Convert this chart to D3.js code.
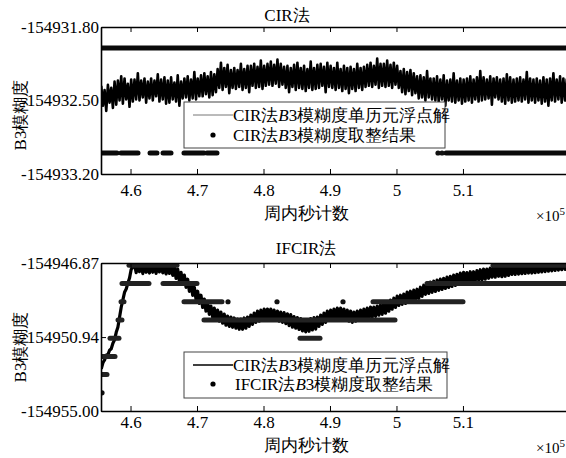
<!DOCTYPE html>
<html><head><meta charset="utf-8">
<script src="https://cdn.jsdelivr.net/npm/d3@7"></script>
<style>
html,body{margin:0;padding:0;background:#fff;overflow:hidden}
svg text{font-family:"Liberation Serif","Times New Roman",Times,serif !important}
</style></head><body>
<script>
// ---------------- data ----------------
const epochStart = 455600, epochStep = 250;
const xTickValues = [460000, 470000, 480000, 490000, 500000, 510000];
const xTickLabels = ["4.6", "4.7", "4.8", "4.9", "5", "5.1"];
const xAxisTitle = "周内秒计数";
const yAxisTitle = "B3模糊度";

const cirTitle = "CIR法";
const cirTickValues = [-154931.80, -154932.50, -154933.20];
const cirTickLabels = ["-154931.80", "-154932.50", "-154933.20"];
const cirFloatBase = -154932;
const cirFloatOffsets = [
 -0.36,-0.55,-0.40,-0.60,-0.35,-0.52,-0.38,-0.57,-0.32,-0.54,
 -0.31,-0.50,-0.27,-0.53,-0.29,-0.49,-0.34,-0.56,-0.30,-0.51,
 -0.30,-0.49,-0.24,-0.50,-0.31,-0.47,-0.29,-0.52,-0.32,-0.48,
 -0.29,-0.50,-0.31,-0.46,-0.25,-0.51,-0.30,-0.49,-0.28,-0.53,
 -0.31,-0.52,-0.28,-0.49,-0.33,-0.51,-0.26,-0.55,-0.32,-0.48,
 -0.29,-0.47,-0.27,-0.50,-0.30,-0.48,-0.23,-0.49,-0.29,-0.46,
 -0.26,-0.46,-0.24,-0.44,-0.27,-0.47,-0.23,-0.45,-0.25,-0.42,
 -0.20,-0.38,-0.14,-0.40,-0.19,-0.37,-0.16,-0.43,-0.21,-0.38,
 -0.19,-0.39,-0.21,-0.37,-0.15,-0.40,-0.20,-0.38,-0.17,-0.42,
 -0.17,-0.36,-0.15,-0.38,-0.18,-0.37,-0.12,-0.39,-0.17,-0.36,
 -0.15,-0.35,-0.13,-0.36,-0.16,-0.34,-0.11,-0.37,-0.15,-0.35,
 -0.18,-0.38,-0.17,-0.42,-0.19,-0.37,-0.16,-0.40,-0.14,-0.38,
 -0.19,-0.39,-0.17,-0.41,-0.20,-0.38,-0.13,-0.40,-0.19,-0.39,
 -0.16,-0.38,-0.15,-0.36,-0.18,-0.42,-0.14,-0.37,-0.17,-0.38,
 -0.19,-0.40,-0.14,-0.38,-0.20,-0.41,-0.17,-0.39,-0.19,-0.43,
 -0.18,-0.39,-0.20,-0.41,-0.15,-0.38,-0.19,-0.40,-0.18,-0.37,
 -0.16,-0.36,-0.14,-0.37,-0.17,-0.35,-0.10,-0.38,-0.15,-0.36,
 -0.15,-0.37,-0.12,-0.36,-0.16,-0.38,-0.14,-0.35,-0.17,-0.38,
 -0.22,-0.42,-0.20,-0.44,-0.23,-0.41,-0.21,-0.45,-0.24,-0.43,
 -0.27,-0.48,-0.26,-0.47,-0.28,-0.50,-0.22,-0.47,-0.29,-0.49,
 -0.29,-0.50,-0.27,-0.51,-0.30,-0.49,-0.26,-0.55,-0.31,-0.50,
 -0.30,-0.51,-0.24,-0.52,-0.31,-0.50,-0.29,-0.53,-0.30,-0.51,
 -0.29,-0.50,-0.27,-0.52,-0.30,-0.49,-0.28,-0.51,-0.22,-0.50,
 -0.28,-0.49,-0.30,-0.48,-0.27,-0.54,-0.29,-0.47,-0.28,-0.49,
 -0.30,-0.51,-0.29,-0.53,-0.25,-0.50,-0.28,-0.52,-0.30,-0.51,
 -0.29,-0.50,-0.28,-0.51,-0.30,-0.49,-0.23,-0.52,-0.29,-0.50,
 -0.30,-0.52,-0.29,-0.50,-0.31,-0.53,-0.28,-0.51,-0.30,-0.55,
 -0.29,-0.50,-0.24,-0.51,-0.30,-0.49,-0.27,-0.52,-0.29,-0.50,
 -0.30,-0.51
];
// [level, start epoch, end epoch]
const cirFixedRuns = [
 [-154932, 455560, 527000],
 [-154933, 455560, 457966],
 [-154933, 458568, 461125],
 [-154933, 462930, 463982],
 [-154933, 464885, 466088],
 [-154933, 468043, 471051],
 [-154933, 471502, 473006],
 [-154933, 507448, 527000]
];
const cirFixedDots = [[-154933, 506245], [-154933, 506846]];
const cirLegendFloat = ["CIR法", "B", "3模糊度单历元浮点解"];
const cirLegendFixed = ["CIR法", "B", "3模糊度取整结果"];

const ifTitle = "IFCIR法";
const ifTickValues = [-154946.87, -154950.94, -154955.00];
const ifTickLabels = ["-154946.87", "-154950.94", "-154955.00"];
const ifFloatBase = -154947;
const ifFloatOffsets = [
 -5.69,-5.35,-5.20,-4.93,-4.90,-4.66,-4.58,-4.28,-4.09,-3.68,
 -3.40,-2.85,-2.30,-1.90,-1.48,-1.30,-0.98,-0.70,-0.22,-0.10,
 0.05,-0.40,0.12,-0.35,0.08,-0.45,0.15,-0.38,0.02,-0.42,
 0.10,-0.38,0.06,-0.44,0.14,-0.36,0.09,-0.41,0.04,-0.47,
 0.10,-0.44,0.06,-0.55,-0.05,-0.72,-0.21,-0.88,-0.38,-1.05,
 -0.54,-1.21,-0.76,-1.43,-0.98,-1.65,-1.20,-1.87,-1.42,-2.09,
 -1.64,-2.31,-1.85,-2.52,-2.07,-2.69,-2.24,-2.85,-2.35,-2.96,
 -2.46,-3.07,-2.57,-3.18,-2.68,-3.29,-2.79,-3.35,-2.84,-3.40,
 -2.89,-3.45,-2.95,-3.51,-2.95,-3.51,-2.89,-3.45,-2.84,-3.35,
 -2.73,-3.24,-2.62,-3.13,-2.51,-3.07,-2.46,-3.02,-2.40,-2.96,
 -2.40,-2.96,-2.40,-2.96,-2.46,-3.02,-2.51,-3.07,-2.57,-3.13,
 -2.60,-3.20,-2.66,-3.31,-2.71,-3.40,-2.82,-3.45,-2.87,-3.52,
 -2.93,-3.60,-2.98,-3.65,-2.98,-3.62,-2.93,-3.55,-2.87,-3.50,
 -2.84,-3.35,-2.73,-3.24,-2.62,-3.13,-2.51,-3.02,-2.46,-2.96,
 -2.40,-2.91,-2.35,-2.91,-2.35,-2.96,-2.40,-3.02,-2.46,-3.07,
 -2.51,-3.13,-2.57,-3.07,-2.51,-3.02,-2.46,-2.96,-2.40,-2.91,
 -2.35,-2.91,-2.29,-2.85,-2.29,-2.80,-2.24,-2.74,-2.18,-2.69,
 -2.07,-2.63,-2.02,-2.52,-1.91,-2.41,-1.80,-2.31,-1.69,-2.20,
 -1.64,-2.14,-1.58,-2.09,-1.47,-2.03,-1.42,-1.98,-1.36,-1.92,
 -1.31,-1.81,-1.20,-1.70,-1.09,-1.59,-0.98,-1.54,-0.92,-1.48,
 -0.87,-1.43,-0.81,-1.37,-0.76,-1.32,-0.71,-1.27,-0.65,-1.21,
 -0.60,-1.16,-0.54,-1.10,-0.49,-1.05,-0.43,-0.99,-0.38,-0.94,
 -0.40,-0.96,-0.35,-0.91,-0.35,-0.85,-0.29,-0.80,-0.24,-0.80,
 -0.20,-0.76,-0.20,-0.71,-0.15,-0.65,-0.09,-0.65,-0.04,-0.60,
 -0.06,-0.62,0.00,-0.60,0.03,-0.55,0.03,-0.50,0.08,-0.50,
 0.08,-0.48,0.10,-0.46,0.13,-0.44,0.13,-0.42,0.16,-0.42,
 0.18,-0.40,0.20,-0.38,0.23,-0.36,0.25,-0.34,0.28,-0.32,
 0.30,-0.30,0.33,-0.28,0.36,-0.26,0.38,-0.24,0.40,-0.22,
 0.42,-0.20
];
const ifFixedRuns = [
 [-154947, 459771, 466990],
 [-154947, 514517, 527000],
 [-154948, 458718, 462779],
 [-154948, 464885, 469998],
 [-154948, 504590, 527000],
 [-154949, 458568, 459019],
 [-154949, 468043, 473758],
 [-154949, 496469, 510005],
 [-154950, 458117, 458718],
 [-154950, 471051, 499778],
 [-154951, 456914, 458267],
 [-154951, 485490, 488498],
 [-154952, 455560, 457666],
 [-154953, 455560, 456462]
];
const ifFixedDots = [[-154954, 455710], [-154949, 474661], [-154949, 482030], [-154949, 491957]];
const ifLegendFloat = ["CIR法", "B", "3模糊度单历元浮点解"];
const ifLegendFixed = ["IFCIR法", "B", "3模糊度取整结果"];

// ---------------- drawing ----------------
const FONT = "Liberation Serif";
const W = 566, H = 458;
const svg = d3.select("body").append("svg").attr("width", W).attr("height", H);
const plotLeft = 101, plotRight = 576;
const x = d3.scaleLinear().domain([455560, 527000]).range([plotLeft, plotRight]);

function legendText(sel, parts) {
  sel.append("tspan").text(parts[0]);
  sel.append("tspan").attr("font-style", "italic").text(parts[1]);
  sel.append("tspan").text(parts[2]);
}

function panel(cfg) {
  const y = d3.scaleLinear().domain(cfg.yDomain).range([cfg.bottom, cfg.top]);
  const g = svg.append("g");
  const clipId = cfg.id + "-clip";
  svg.append("clipPath").attr("id", clipId).append("rect")
    .attr("x", plotLeft).attr("y", cfg.top)
    .attr("width", plotRight - plotLeft).attr("height", cfg.bottom - cfg.top);

  const dataG = g.append("g").attr("clip-path", `url(#${clipId})`);
  const pts = cfg.offsets.map((o, i) => [epochStart + i * epochStep, cfg.base + o]);
  dataG.append("path").datum(pts)
    .attr("d", d3.line().x(d => x(d[0])).y(d => y(d[1])))
    .attr("fill", "none").attr("stroke", "#000").attr("stroke-width", cfg.floatWidth)
    .attr("stroke-linejoin", "round");
  dataG.selectAll("line.run").data(cfg.runs).join("line").attr("class", "run")
    .attr("x1", d => x(d[1])).attr("x2", d => x(d[2]))
    .attr("y1", d => y(d[0])).attr("y2", d => y(d[0]))
    .attr("stroke", cfg.runColor).attr("stroke-width", 5).attr("stroke-linecap", "round");
  dataG.selectAll("circle.dot").data(cfg.dots).join("circle").attr("class", "dot")
    .attr("cx", d => x(d[1])).attr("cy", d => y(d[0])).attr("r", 2.6).attr("fill", "#111");

  // axes
  const xb = d3.axisBottom(x).tickValues(xTickValues)
    .tickFormat((d, i) => xTickLabels[i]).tickSizeInner(-5).tickSizeOuter(0).tickPadding(cfg.xPad);
  const xa = g.append("g").attr("transform", `translate(0,${cfg.bottom})`).call(xb);
  const xt = d3.axisTop(x).tickValues(xTickValues).tickFormat("").tickSizeInner(-5).tickSizeOuter(0);
  const xat = g.append("g").attr("transform", `translate(0,${cfg.top})`).call(xt);
  const yl = d3.axisLeft(y).tickValues(cfg.tickValues)
    .tickFormat((d, i) => cfg.tickLabels[i]).tickSizeInner(-5).tickSizeOuter(0).tickPadding(2);
  const ya = g.append("g").attr("transform", `translate(${plotLeft},0)`).call(yl);
  [xa, xat, ya].forEach(a => {
    a.attr("font-family", FONT).attr("font-size", null);
    a.select(".domain").attr("stroke", "#000").attr("stroke-width", 1.6);
    a.selectAll(".tick line").attr("stroke", "#000").attr("stroke-width", 1);
    a.selectAll("text").attr("font-size", 17).attr("font-family", FONT).attr("fill", "#000");
  });
  ya.selectAll("text").attr("dy", "0.3em");

  // titles
  g.append("text").attr("x", cfg.titleX).attr("y", cfg.titleY).attr("text-anchor", "middle")
    .attr("font-family", FONT).attr("font-size", 17).text(cfg.title);
  g.append("text").attr("x", 306).attr("y", cfg.xLabelY).attr("text-anchor", "middle")
    .attr("font-family", FONT).attr("font-size", 17).text(xAxisTitle);
  g.append("text").attr("transform", `translate(26,${cfg.yLabelCY}) rotate(-90)`)
    .attr("font-family", FONT).attr("text-anchor", "middle").attr("font-size", 17).text(yAxisTitle);
  const ex = g.append("text").attr("x", 536).attr("y", cfg.xLabelY + 2)
    .attr("font-family", FONT).attr("font-size", 15);
  ex.append("tspan").text("×10");
  ex.append("tspan").attr("font-size", 11).attr("dy", -6).text("5");

  // legend
  const L = cfg.legend;
  g.append("rect").attr("x", L.x).attr("y", L.y).attr("width", L.w).attr("height", L.h)
    .attr("fill", "#fff").attr("stroke", "#444").attr("stroke-width", 1);
  g.append("line").attr("x1", L.x + 9).attr("x2", L.x + 49).attr("y1", L.y1).attr("y2", L.y1)
    .attr("stroke", L.lineColor).attr("stroke-width", L.lineWidth);
  legendText(g.append("text").attr("x", L.x + 49).attr("y", L.y1 + 6)
    .attr("font-family", FONT).attr("font-size", 17), cfg.legendFloat);
  g.append("circle").attr("cx", L.x + 29).attr("cy", L.y2).attr("r", 2.6).attr("fill", "#000");
  legendText(g.append("text").attr("x", L.tx2).attr("y", L.y2 + 6)
    .attr("font-family", FONT).attr("font-size", 17), cfg.legendFixed);
}

panel({
  id: "cir", top: 27, bottom: 174, yDomain: [-154933.20, -154931.80],
  tickValues: cirTickValues, tickLabels: cirTickLabels,
  base: cirFloatBase, offsets: cirFloatOffsets, runs: cirFixedRuns, dots: cirFixedDots,
  runColor: "#0a0a0a", floatWidth: 2.6, xPad: 10, title: cirTitle, titleX: 287, titleY: 21,
  xLabelY: 219, yLabelCY: 115,
  legend: {x: 184, y: 102, w: 261, h: 46, y1: 115, y2: 135, tx2: 233, lineColor: "#777", lineWidth: 1},
  legendFloat: cirLegendFloat, legendFixed: cirLegendFixed
});
panel({
  id: "ifcir", top: 263, bottom: 411, yDomain: [-154955.00, -154946.87],
  tickValues: ifTickValues, tickLabels: ifTickLabels,
  base: ifFloatBase, offsets: ifFloatOffsets, runs: ifFixedRuns, dots: ifFixedDots,
  runColor: "#222", floatWidth: 3.2, xPad: 5, title: ifTitle, titleX: 306, titleY: 254,
  xLabelY: 451, yLabelCY: 347,
  legend: {x: 184, y: 352, w: 263, h: 46, y1: 365, y2: 384, tx2: 235, lineColor: "#000", lineWidth: 1.6},
  legendFloat: ifLegendFloat, legendFixed: ifLegendFixed
});
</script>
</body></html>
